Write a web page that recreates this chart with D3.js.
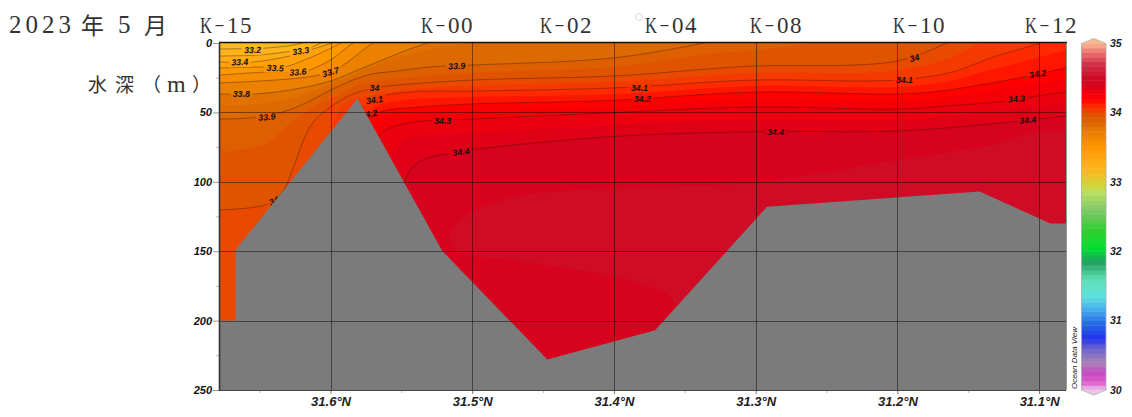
<!DOCTYPE html>
<html><head><meta charset="utf-8">
<style>html,body{margin:0;padding:0;background:#fff}svg{display:block}</style>
<script src="https://cdn.jsdelivr.net/npm/d3@7"></script></head>
<body><svg id="c" width="1132" height="417"></svg>
<script>
// ---- data (latitude °N, depth m) ----
const s332=[[31.678,4.3],[31.645,3.6],[31.626,1.4],[31.620,0],[31.612,-3]];
const s333=[[31.678,9.4],[31.650,8.6],[31.632,6.5],[31.615,3.6],[31.607,0],[31.602,-3]];
const s334=[[31.678,13.7],[31.655,13.7],[31.629,9.4],[31.610,3.6],[31.599,0],[31.592,-3]];
const s335=[[31.678,18],[31.650,17.3],[31.633,17.3],[31.615,10.8],[31.598,2.9],[31.593,0],[31.587,-3]];
const s336=[[31.678,23.1],[31.645,20.9],[31.622,20.9],[31.615,19.5],[31.600,12.2],[31.584,0],[31.577,-3]];
const s337=[[31.678,28.8],[31.622,25.2],[31.600,20.9],[31.591,15.9],[31.570,0],[31.563,-3]];
const s338=[[31.678,36.7],[31.653,36.7],[31.629,33.9],[31.600,27.4],[31.579,18.7],[31.560,10.8],[31.544,4.3],[31.532,0],[31.525,-3]];
const s3385=[[31.678,45],[31.653,44.3],[31.625,39],[31.600,29.5],[31.576,19.5],[31.551,10],[31.523,3],[31.502,0],[31.494,-2]];
const s339=[[31.678,54.8],[31.658,54],[31.634,49.7],[31.616,42.5],[31.600,33.9],[31.574,23.1],[31.553,20.2],[31.530,17.3],[31.500,15.9],[31.401,10.8],[31.337,0],[31.325,-3]];
const s3395=[[31.678,79],[31.645,72],[31.634,62.7],[31.616,48],[31.600,40],[31.579,30],[31.551,25.5],[31.500,21.5],[31.401,17.3],[31.339,8.6],[31.301,5],[31.269,1.4],[31.255,-1.4]];
const s340=[[31.678,120.3],[31.653,118.2],[31.643,115.3],[31.634,107.4],[31.626,89],[31.618,67.4],[31.611,55.5],[31.600,46.1],[31.586,37.5],[31.569,32.4],[31.560,31],[31.500,26.7],[31.401,23.8],[31.301,16.6],[31.231,15.9],[31.200,13],[31.180,6.5],[31.165,0],[31.156,-3]];
const s3405=[[31.600,70],[31.593,47],[31.585,41],[31.569,37.5],[31.539,33],[31.500,30.6],[31.401,28],[31.301,21.6],[31.224,21.6],[31.200,19.8],[31.185,17],[31.161,10],[31.146,2],[31.138,-2]];
const s341=[[31.583,52],[31.572,42.5],[31.563,38.2],[31.539,35],[31.500,34.6],[31.401,32.4],[31.301,26.7],[31.224,27.4],[31.200,26.7],[31.185,25.2],[31.161,20.9],[31.132,10],[31.101,0.7],[31.092,-3]];
const s3415=[[31.576,60],[31.569,47],[31.551,41.5],[31.500,39],[31.401,37],[31.301,31],[31.200,31.7],[31.166,28],[31.138,20.5],[31.106,12],[31.081,5]];
const s342=[[31.576,54],[31.567,50.4],[31.560,48.3],[31.537,46.1],[31.500,43.9],[31.401,41.3],[31.301,35.3],[31.200,36.7],[31.170,34.6],[31.142,30.3],[31.111,24.5],[31.081,17.9]];
const s3425=[[31.574,65],[31.562,55],[31.537,50.5],[31.500,49],[31.401,46],[31.301,40.5],[31.200,42],[31.156,38],[31.113,31],[31.081,26.5]];
const s343=[[31.569,70],[31.562,63],[31.551,59.1],[31.535,56.2],[31.500,54.8],[31.401,50.2],[31.301,46.1],[31.200,47.6],[31.165,45.4],[31.123,41.8],[31.106,38.9],[31.081,35.3]];
const s3435=[[31.557,85],[31.551,72],[31.537,67],[31.500,65],[31.401,59],[31.301,55],[31.200,55.5],[31.142,50],[31.081,44]];
const s344=[[31.549,106],[31.544,91.5],[31.535,84.3],[31.514,79.3],[31.502,77.1],[31.401,67.4],[31.301,63.9],[31.200,63.4],[31.142,59.1],[31.113,56.2],[31.081,52.6]];
const core345=[[31.516,138.3],[31.506,125.4],[31.471,111],[31.401,104.5],[31.306,100.9],[31.200,84.3],[31.142,75],[31.081,64.8],[31.07,100],[31.081,142],[31.142,156],[31.353,199.6],[31.360,183],[31.401,168.6],[31.471,156.4],[31.509,150.6]];
const seabed=[[31.678,200],[31.667,200],[31.667,149],[31.581,40],[31.521,150],[31.447,228],[31.371,207],[31.292,118],[31.142,107],[31.092,130],[31.081,130]];

const fillLevels=[33.2,33.3,33.4,33.5,33.6,33.7,33.8,33.85,33.9,33.95,34.0,34.05,34.1,34.15,34.2,34.25,34.3,34.35,34.4];
const fillLines=[s332,s333,s334,s335,s336,s337,s338,s3385,s339,s3395,s340,s3405,s341,s3415,s342,s3425,s343,s3435,s344];
const contourLines=[s332,s333,s334,s335,s336,s337,s338,s339,s340,s341,s342,s343,s344];
const surfaceValue=33.15, coreValue=34.5;

const latTicks=[31.6,31.5,31.4,31.3,31.2,31.1];
const latMinor=[31.65,31.55,31.45,31.35,31.25,31.15];
const depthTicks=[0,50,100,150,200,250];
const depthMinor=[25,75,125,175,225];
const barTicks=[30,31,32,33,34,35];

const contourLabels=[
 ["33.2",31.655,5],["33.3",31.621,5.8],["33.4",31.664,13.7],["33.5",31.639,18],["33.6",31.623,20.9],["33.7",31.600,20.9],
 ["33.8",31.663,36.7],["33.9",31.645,53.3],["34",31.569,32.4],["34.1",31.569,41.1],["34.2",31.573,51.2],["34",31.640,113.8],
 ["33.9",31.511,16.6],["34.3",31.521,56.2],["34.4",31.508,78.5],["34.1",31.382,32.4],["34.2",31.380,40.3],["34.4",31.286,64.1],
 ["34",31.188,10.8],["34.1",31.195,26.7],["34.2",31.101,22.3],["34.3",31.116,40.3],["34.4",31.108,55.5]];
const labelAngles=[-2,-8,-2,3,-5,-17,0,-5,0,-8,-10,-25,-3,0,-8,0,0,0,-15,0,-8,-4,-4];

const stations=["K-15","K-00","K-02","K-04","K-08","K-10","K-12"];
const stationX=[200,421,540,645,750,893,1025];

const rampValues=[30,30.12,30.25,30.4,30.6,30.75,30.95,31.15,31.35,31.6,31.85,32.05,32.3,32.6,32.85,33,33.2,33.5,33.7,33.85,33.95,34,34.1,34.2,34.3,34.4,34.5,34.7,34.85,35];
const rampColors=["#eac4ec","#dc5ccc","#c848c0","#a884b4","#6c64cc","#2432f0","#2468e4","#44a8f0","#60e0e0","#60e0b4","#20a060","#00e030","#30d030","#80c868","#b8e060","#d8d030","#ffb41e","#ff9800","#ec8000","#dc6a00","#e05400","#e94a00","#ff2a00","#ff0000","#ec0010","#d6021e","#d00b25","#d2304a","#e8686a","#f8b890"];

// ---- scales ----
const svg=d3.select("#c");
const x=d3.scaleLinear().domain([31.678,31.081]).range([220,1066]);
const y=d3.scaleLinear().domain([0,250]).range([43,390]);
const col=d3.scaleLinear().domain(rampValues).range(rampColors);
const bar=d3.scaleLinear().domain([30,35]).range([390,43.5]);
const line=d3.line().x(d=>x(d[0])).y(d=>y(d[1])).curve(d3.curveCatmullRom.alpha(0.5));
const [L,R]=x.range(),[T,B]=y.range();

const defs=svg.append("defs");
defs.append("clipPath").attr("id","plot").append("rect").attr("x",L).attr("y",T).attr("width",R-L).attr("height",B-T);
const mask=defs.append("mask").attr("id","gaps").attr("maskUnits","userSpaceOnUse")
  .attr("x",0).attr("y",0).attr("width",1132).attr("height",417);
mask.append("rect").attr("width",1132).attr("height",417).attr("fill","#fff");
contourLabels.forEach((d,i)=>{
  const w=d[0].length>2?22:14;
  mask.append("rect").attr("x",-w/2).attr("y",-5).attr("width",w).attr("height",10).attr("fill","#000")
    .attr("transform",`translate(${x(d[1])},${y(d[2])}) rotate(${labelAngles[i]})`);
});

// ---- field ----
const g=svg.append("g").attr("clip-path","url(#plot)");
g.append("rect").attr("x",L).attr("y",T).attr("width",R-L).attr("height",B-T).attr("fill",col(surfaceValue));
fillLines.forEach((l,i)=>{
  const ln=line(l), last=l[l.length-1];
  const top=last[1]<1?`L${x(last[0])},${T-10}L${R+10},${T-10}`:`L${R+10},${y(last[1])}`;
  g.append("path").attr("fill",col(fillLevels[i]))
    .attr("d",ln+top+`L${R+10},${B}L${x(l[0][0])},${B}Z`);
});
g.append("path").attr("fill",col(coreValue))
  .attr("d",d3.line().x(d=>x(d[0])).y(d=>y(d[1])).curve(d3.curveCatmullRomClosed.alpha(0.5))(core345));

// ---- contours + labels (seabed covers them) ----
const cg=g.append("g").attr("mask","url(#gaps)");
contourLines.forEach(l=>cg.append("path").attr("d",line(l)).attr("fill","none")
  .attr("stroke","rgba(50,25,0,0.52)").attr("stroke-width",0.75));
contourLabels.forEach((d,i)=>{
  g.append("text").attr("transform",`translate(${x(d[1])},${y(d[2])}) rotate(${labelAngles[i]})`)
   .attr("text-anchor","middle").attr("dy","0.35em")
   .style("font","italic bold 8.8px 'Liberation Sans'").attr("fill","#111").text(d[0]);
});

// ---- seabed ----
g.append("path").attr("fill","#7b7b7b")
  .attr("d",d3.line().x(d=>x(d[0])).y(d=>y(d[1]))(seabed)+`L${R+10},${B+5}L${L-5},${B+5}Z`);

// ---- grid ----
latTicks.forEach(v=>svg.append("line").attr("x1",Math.round(x(v))+.5).attr("x2",Math.round(x(v))+.5).attr("y1",T).attr("y2",B)
  .attr("stroke","rgba(0,0,0,0.45)"));
depthTicks.slice(1,-1).forEach(v=>svg.append("line").attr("y1",Math.round(y(v))+.5).attr("y2",Math.round(y(v))+.5).attr("x1",L).attr("x2",R)
  .attr("stroke","rgba(0,0,0,0.45)"));

// ---- axes ----
const axL=svg.append("g").attr("transform",`translate(${L},0)`).call(d3.axisLeft(y).tickValues(depthTicks).tickSize(7).tickPadding(1).tickFormat(d3.format("d")));
axL.select(".domain").remove();
axL.selectAll("line").attr("stroke","#999");
axL.selectAll("text").style("font","italic bold 11px 'Liberation Sans'").attr("fill","#111");
const axLm=svg.append("g").attr("transform",`translate(${L},0)`).call(d3.axisLeft(y).tickValues(depthMinor).tickSize(4).tickFormat(""));
axLm.select(".domain").remove(); axLm.selectAll("line").attr("stroke","#bbb");
const axB=svg.append("g").attr("transform",`translate(0,${B})`).call(d3.axisBottom(x).tickValues(latTicks).tickSize(4).tickPadding(3).tickFormat(d=>d3.format(".1f")(d)+"°N"));
axB.select(".domain").remove();
axB.selectAll("line").attr("stroke","#777");
axB.selectAll("text").style("font","italic bold 13px 'Liberation Sans'").attr("fill","#222");
const axBm=svg.append("g").attr("transform",`translate(0,${B})`).call(d3.axisBottom(x).tickValues(latMinor).tickSize(3).tickFormat(""));
axBm.select(".domain").remove(); axBm.selectAll("line").attr("stroke","#bbb");

// frame
svg.append("line").attr("x1",L-1).attr("x2",R+1).attr("y1",T-.5).attr("y2",T-.5).attr("stroke","#111").attr("stroke-width",1.4);
svg.append("line").attr("x1",L-.5).attr("x2",L-.5).attr("y1",T).attr("y2",B+1).attr("stroke","#333").attr("stroke-width",1.6);
svg.append("line").attr("x1",L).attr("x2",R).attr("y1",B+.5).attr("y2",B+.5).attr("stroke","#444").attr("stroke-width",1.2);
svg.append("line").attr("x1",R+.5).attr("x2",R+.5).attr("y1",T).attr("y2",B).attr("stroke","#999").attr("stroke-width",1);

// ---- colour bar ----
const bx0=1081.5,bx1=1106,bxm=(bx0+bx1)/2,step=0.0667;
d3.range(30,35,step).forEach(v=>{
  svg.append("rect").attr("x",bx0).attr("width",bx1-bx0).attr("y",bar(v+step)).attr("height",bar(v)-bar(v+step)+.5)
    .attr("fill",col(v+step/2));
});
svg.append("path").attr("fill",col(35)).attr("d",`M${bx0},${bar(35)+.5}L${bxm},${bar(35)-5}L${bx1},${bar(35)+.5}Z`);
svg.append("path").attr("fill",col(30)).attr("d",`M${bx0},${bar(30)-.5}L${bxm},${bar(30)+5}L${bx1},${bar(30)-.5}Z`);
svg.append("path").attr("fill","none").attr("stroke","#aaa").attr("stroke-width",.8)
  .attr("d",`M${bx0},${bar(35)}L${bxm},${bar(35)-5}L${bx1},${bar(35)}L${bx1},${bar(30)}L${bxm},${bar(30)+5}L${bx0},${bar(30)}Z`);
barTicks.forEach(v=>svg.append("text").attr("x",1110).attr("y",bar(v)).attr("dy","0.35em").text(v)
  .style("font","italic bold 10.5px 'Liberation Sans'").attr("fill","#222"));
svg.append("text").attr("transform","translate(1077,358) rotate(-90)").attr("text-anchor","middle")
  .style("font","italic 8px 'Liberation Sans'").attr("fill","#222").text("Ocean Data View");

// ---- titles ----
const serif="'Liberation Serif'", cjk="'Noto Sans CJK JP'";
const ink="#333";
function txt(s,xp,yp,size,fam,len){
  const t=svg.append("text").attr("x",xp).attr("y",yp).text(s).attr("fill",ink).style("font",`${size}px ${fam}`);
  if(len) t.attr("textLength",len).attr("lengthAdjust","spacing");
  return t;
}
txt("2023",9,33,25,serif,62);
txt("年",81,34,23,cjk);
txt("5",118,33,25,serif);
txt("月",144,34,23,cjk);
txt("水",88,92,19,cjk);
txt("深",115,92,19,cjk);
txt("（",142,92,19,cjk);
txt("m",167,92,24,serif);
txt("）",192,92,19,cjk);
// station names: monospaced pitch, with a condensed K
stations.forEach((s,i)=>{
  const st=stationX[i];
  svg.append("text").attr("transform",`translate(${st},33) scale(0.72,1)`).text(s[0]).attr("fill",ink).style("font",`23px ${serif}`);
  svg.append("rect").attr("x",st+15.5).attr("y",25).attr("width",8).attr("height",1.2).attr("fill",ink);
  svg.append("text").attr("x",`${st+27} ${st+40}`).attr("y",33).text(s.slice(2)).attr("fill",ink).style("font",`23px ${serif}`);
});
svg.append("circle").attr("cx",639).attr("cy",17).attr("r",3.5).attr("fill","none").attr("stroke","#ddd");
</script></body></html>
